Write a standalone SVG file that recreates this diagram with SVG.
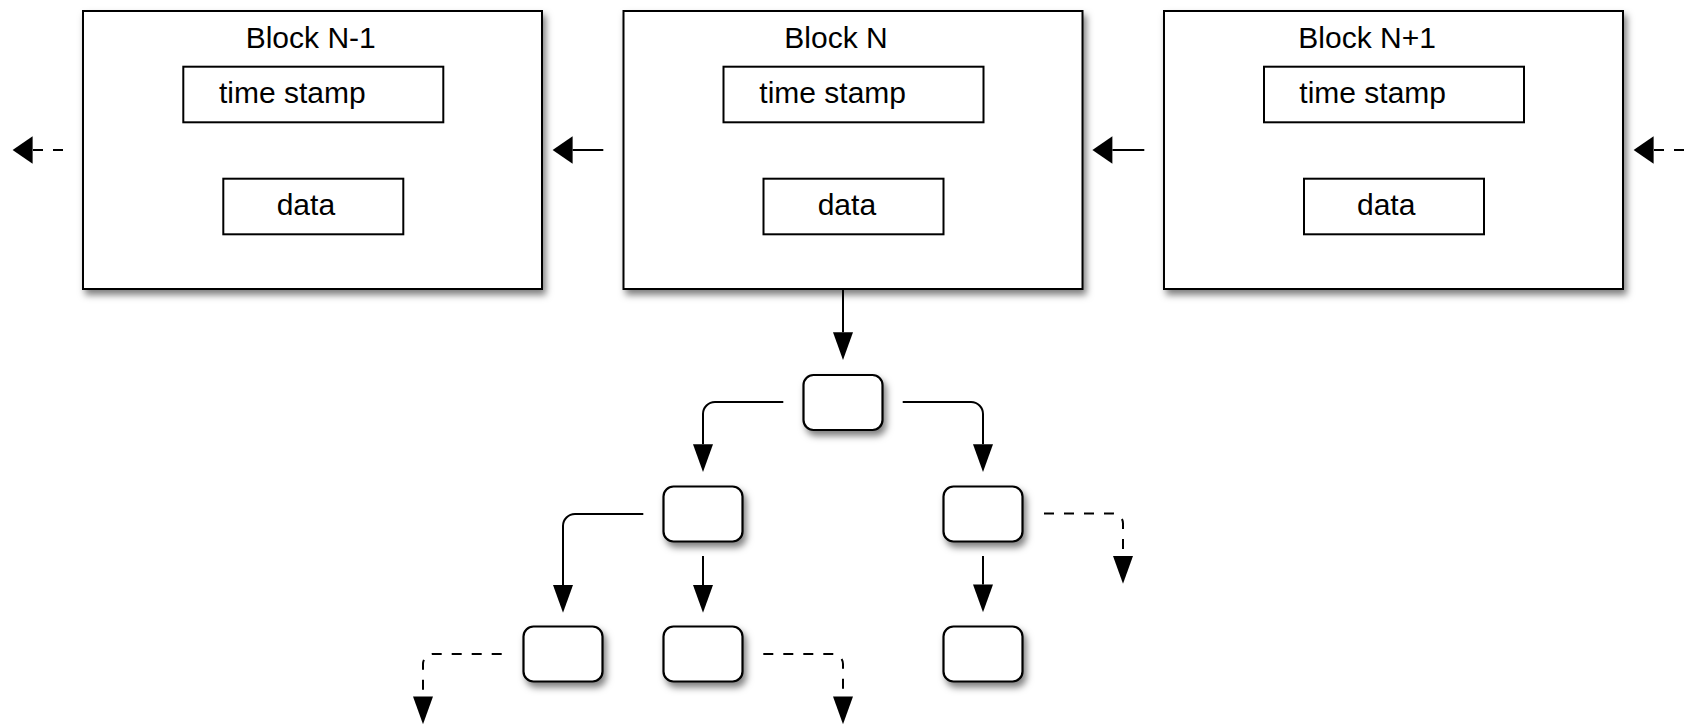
<svg xmlns="http://www.w3.org/2000/svg" width="1686" height="725" viewBox="0 0 1686 725">
<style>
  .block { fill: #fff; stroke: #000; stroke-width: 2; filter: url(#shadow); }
  .inner { fill: #fff; stroke: #000; stroke-width: 2; }
  .node { fill: #fff; stroke: #000; stroke-width: 2.2; filter: url(#shadow); }
  .lbl { font-family: "Liberation Sans", Arial, sans-serif; font-size: 30px; fill: #000; }
  .conn { fill: none; stroke: #000; stroke-width: 2; }
  .h { marker-end: url(#ahH); }
  .v { marker-end: url(#ahV); }
  .dash { stroke-dasharray: 10 10; }
</style>
<defs>
  <filter id="shadow" x="-10%" y="-10%" width="130%" height="140%">
    <feDropShadow dx="3" dy="5" stdDeviation="3.5" flood-color="#000" flood-opacity="0.5"/>
  </filter>
  <marker id="ahH" markerUnits="userSpaceOnUse" markerWidth="20" markerHeight="28" viewBox="0 0 19.3 26.7" refX="0" refY="13.35" orient="auto" overflow="visible">
    <path d="M0,0 L19.3,13.35 L0,26.7 Z" fill="#000"/>
  </marker>
  <marker id="ahV" markerUnits="userSpaceOnUse" markerWidth="28" markerHeight="20" viewBox="0 0 26.7 19.3" refX="0" refY="9.65" orient="auto" overflow="visible">
    <path d="M0,0 L26.7,9.65 L0,19.3 Z" fill="#000"/>
  </marker>
</defs>
<rect width="1686" height="725" fill="#fff"/>

<g id="connectors">
  <path class="conn h" d="M603.3,150 H572.6"/>
  <path class="conn h" d="M1144.3,150 H1112.4"/>
  <path class="conn h dash" d="M63,150 H32.6"/>
  <path class="conn h dash" d="M1684,150 H1653.6"/>
  <path class="conn v" d="M843,290 V332.3"/>
  <path class="conn v" d="M783.3,402 H715 A12,12 0 0 0 703,414 V444.3"/>
  <path class="conn v" d="M902.7,402 H971 A12,12 0 0 1 983,414 V444.3"/>
  <path class="conn v" d="M643.3,514 H575 A12,12 0 0 0 563,526 V585"/>
  <path class="conn v" d="M703,556 V585"/>
  <path class="conn v" d="M983,556 V584.5"/>
  <path class="conn v dash" d="M1044,513.5 H1113 A10,10 0 0 1 1123,523.5 V556"/>
  <path class="conn v dash" d="M501.7,654 H433 A10,10 0 0 0 423,664 V696.6"/>
  <path class="conn v dash" d="M763.3,654 H833 A10,10 0 0 1 843,664 V696.6"/>
</g>

<g id="block-n-1">
  <rect class="block" x="83" y="11" width="459" height="278"/>
  <text class="lbl" x="245.7" y="48.3">Block N-1</text>
  <rect class="inner" x="183.3" y="66.7" width="260" height="55.6"/>
  <text class="lbl" x="219" y="103.3">time stamp</text>
  <rect class="inner" x="223.3" y="178.7" width="180" height="55.6"/>
  <text class="lbl" x="276.7" y="215">data</text>
</g>

<g id="block-n">
  <rect class="block" x="623.5" y="11" width="459" height="278"/>
  <text class="lbl" x="784.3" y="48.3">Block N</text>
  <rect class="inner" x="723.5" y="66.7" width="260" height="55.6"/>
  <text class="lbl" x="759.3" y="103.3">time stamp</text>
  <rect class="inner" x="763.5" y="178.7" width="180" height="55.6"/>
  <text class="lbl" x="817.7" y="215">data</text>
</g>

<g id="block-n-plus-1">
  <rect class="block" x="1164" y="11" width="459" height="278"/>
  <text class="lbl" x="1298.3" y="48.3">Block N+1</text>
  <rect class="inner" x="1264" y="66.7" width="260" height="55.6"/>
  <text class="lbl" x="1299.3" y="103.3">time stamp</text>
  <rect class="inner" x="1304" y="178.7" width="180" height="55.6"/>
  <text class="lbl" x="1357" y="215">data</text>
</g>

<g id="node-root"><rect class="node" x="803.5" y="375" width="79" height="55" rx="10"/></g>
<g id="node-l"><rect class="node" x="663.5" y="486.5" width="79" height="55" rx="10"/></g>
<g id="node-r"><rect class="node" x="943.5" y="486.5" width="79" height="55" rx="10"/></g>
<g id="node-ll"><rect class="node" x="523.5" y="626.5" width="79" height="55" rx="10"/></g>
<g id="node-lr"><rect class="node" x="663.5" y="626.5" width="79" height="55" rx="10"/></g>
<g id="node-rl"><rect class="node" x="943.5" y="626.5" width="79" height="55" rx="10"/></g>
</svg>
